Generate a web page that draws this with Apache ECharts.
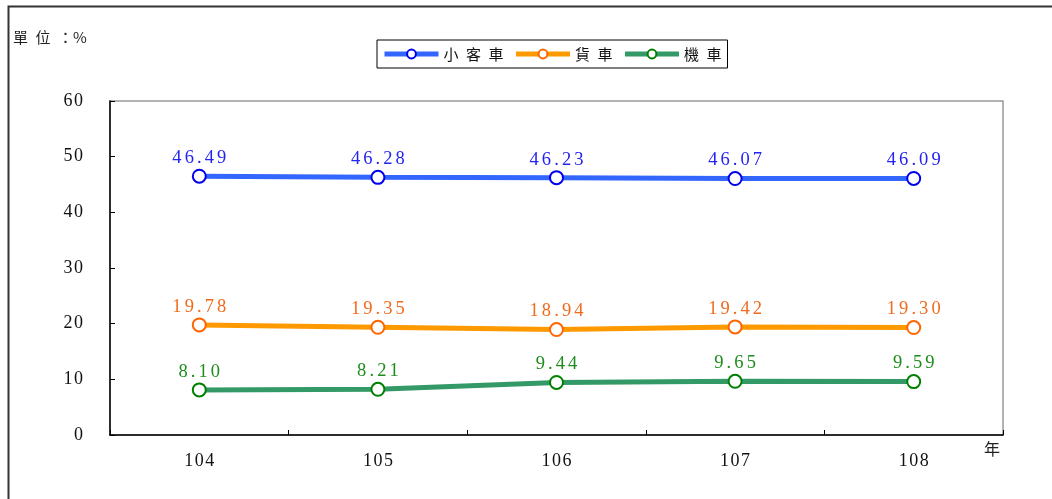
<!DOCTYPE html>
<html><head><meta charset="utf-8">
<script src="https://cdn.jsdelivr.net/npm/echarts@6/dist/echarts.min.js"></script>
<style>html,body{margin:0;padding:0;background:#fff}#c{width:1052px;height:499px}</style>
</head><body><div id="c"></div>
<script>
const years = ['104','105','106','107','108'];
const car = [46.49, 46.28, 46.23, 46.07, 46.09];
const truck = [19.78, 19.35, 18.94, 19.42, 19.30];
const moto = [8.10, 8.21, 9.44, 9.65, 9.59];
const seriesNames = ['小客車','貨車','機車'];
const yTicks = [0, 10, 20, 30, 40, 50, 60];

const sp = s => String(s).split('').join('\u200A');
const spW = s => String(s).split('').join('\u2006');
const chart = echarts.init(document.getElementById('c'), null, {renderer:'canvas'});
const numFont = 'Liberation Serif';
function mk(name, data, lineC, markC, labC) {
  return {
    name, type:'line', data, symbol:'circle', symbolSize:13,
    lineStyle:{color:lineC, width:5},
    itemStyle:{color:'#fff', borderColor:markC, borderWidth:2},
    label:{show:true, position:'top', distance:1, color:labC, fontFamily:numFont, fontSize:18.5,
      formatter:p=>spW(p.value.toFixed(2))},
    emphasis:{disabled:true}, z:3
  };
}
chart.setOption({
  animation:false,
  backgroundColor:'#fff',
  graphic:[
    {type:'rect', shape:{x:8.5,y:6.5,width:1200,height:800}, style:{fill:'none', stroke:'#333', lineWidth:2}, silent:true},
    {type:'text', left:13, top:30, style:{text:'單\u2002位\u2002：%', font:'15px "Noto Sans CJK TC"', fill:'#222'}},
    {type:'text', left:984, top:441, style:{text:'年', font:'16px "Noto Sans CJK TC"', fill:'#222'}}
  ],
  legend:{
    top:40, left:377, orient:'horizontal', padding:[6,6,6,5], itemGap:10,
    borderColor:'#000', borderWidth:1, itemWidth:54, itemHeight:11,
    lineStyle:{width:5},
    textStyle:{fontFamily:'Noto Sans CJK TC', fontSize:15, color:'#111', lineHeight:16},
    formatter:n=>n.split('').join('\u2002'),
    data:seriesNames
  },
  grid:{left:110, top:101, right:49, bottom:64, show:true, borderColor:'#999', borderWidth:1.5},
  xAxis:{
    type:'category', data:years, boundaryGap:true,
    axisLine:{lineStyle:{color:'#000', width:1.5}},
    axisTick:{show:true, inside:true, length:5, lineStyle:{color:'#000'}},
    axisLabel:{margin:17, color:'#111', fontFamily:numFont, fontSize:18, formatter:v=>sp(v)}
  },
  yAxis:{
    type:'value', min:yTicks[0], max:yTicks[yTicks.length-1], interval:10,
    axisLine:{show:true, lineStyle:{color:'#000', width:1.5}},
    axisTick:{show:true, inside:true, length:5, lineStyle:{color:'#000'}},
    splitLine:{show:false},
    axisLabel:{margin:27, color:'#111', fontFamily:numFont, fontSize:18, formatter:v=>sp(v)}
  },
  series:[
    mk(seriesNames[0], car, '#3366FF', '#0000EE', '#2424F0'),
    mk(seriesNames[1], truck, '#FF9900', '#FF6600', '#F26B1D'),
    mk(seriesNames[2], moto, '#339966', '#008000', '#1C8C1C')
  ]
});
</script></body></html>
